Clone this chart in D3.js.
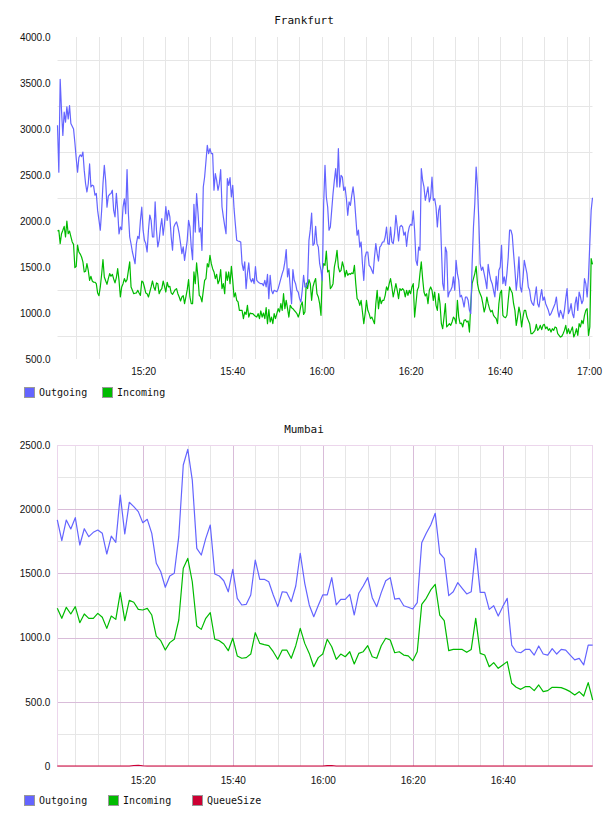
<!DOCTYPE html>
<html>
<head>
<meta charset="utf-8">
<script src="https://cdn.jsdelivr.net/npm/d3@7"></script>
<style>
  body { margin: 0; background: #fff; }
  svg { display: block; font-family: "DejaVu Sans Mono", monospace; }
  .title { font-size: 11px; fill: #111; }
  .tick text { font-size: 10px; fill: #111; }
  .legend text { font-size: 10px; fill: #111; }
</style>
</head>
<body>
<svg id="chart" width="608" height="816"></svg>
<script>
// Frankfurt: one sample every 18 s from 15:00:47
const frankfurtStart = [15, 0, 47];
const frankfurtStepSec = 18;
const frankfurtOutgoing = [
  3040,2530,3540,3200,2930,3185,3075,3240,3110,3255,3060,3030,3000,2850,2680,2530,2690,2720,2700,2750,
  2550,2405,2315,2405,2620,2370,2390,2380,2280,2300,2115,2010,1900,2115,2405,2605,2440,2150,2270,2290,
  2300,2335,2115,2045,2300,2115,1860,1935,1905,2150,2240,2080,2560,2080,1826,1750,1663,1600,1535,1755,
  1833,1808,2007,2150,1900,1790,1755,1663,1900,2065,2007,1826,1826,2207,1900,1718,1790,1935,2025,1845,
  1970,2157,2007,2115,2045,1826,1682,1935,1970,1990,1935,1860,1755,1645,1718,1572,1680,1790,2007,1935,
  1718,1580,2181,1880,2297,2098,1880,1927,1681,2370,2478,2650,2822,2732,2786,2732,2732,2334,2515,2442,
  2334,2406,2558,2152,2044,1950,1862,2460,2388,2471,2261,2388,2134,1960,1790,1783,1778,1772,1536,1464,
  1555,1265,1428,1544,1374,1337,1374,1319,1504,1355,1337,1327,1319,1319,1297,1355,1283,1421,1156,1410,
  1247,1210,1247,1240,1232,1265,1319,1374,1428,1471,1555,1689,1392,1482,1283,1101,1471,1355,1319,1247,
  1228,1156,1120,1247,1410,1283,1283,1337,1790,1906,2087,1736,1754,1942,1754,1718,1536,1464,1355,2188,
  2605,2261,2152,1900,1935,2116,2297,2442,2569,2370,2786,2370,2496,2478,2333,2370,2243,2062,2207,2170,
  2279,2370,2243,2044,1845,1900,1717,1772,1536,1355,1609,1663,1663,1518,1500,1464,1428,1609,1754,1645,
  1565,1717,1736,1772,1772,1826,1935,1754,1746,1935,1772,1754,1862,2062,1935,1783,1935,1953,1935,1845,
  1880,1725,1862,1935,1964,1953,2109,1900,1573,1518,1717,1681,2569,2442,2370,2225,2297,2370,2207,2261,
  2478,2225,2243,2152,1935,2116,2170,1717,1319,1247,1717,1663,1174,1228,1247,1283,1392,1247,1573,1428,
  1355,1174,1192,1138,1065,1174,1174,1138,1029,993,1536,1935,2188,2587,2370,2007,1536,1464,1500,1428,
  1355,1265,1529,1428,1355,1319,1247,1174,1398,1247,1464,1500,1736,1319,1392,1301,1428,1609,1900,1900,
  1845,1645,1464,1247,1392,1609,1283,1228,1373,1573,1500,1428,1283,1247,1138,1101,1083,1185,1283,1101,
  1065,1174,1254,1138,1174,1101,1065,1029,975,993,1029,1065,1101,1174,1029,956,1029,993,938,1029,
  1156,1265,993,1029,1101,993,949,1101,1174,1029,1228,1174,1101,1138,1373,1319,1174,1392,1757,2116,
  2253
];
const frankfurtIncoming = [
  1891,1898,1754,1862,1900,1942,1826,2000,1862,1891,1830,1772,1746,1493,1507,1739,1663,1640,1609,1555,
  1446,1453,1536,1464,1355,1399,1348,1334,1334,1319,1218,1189,1283,1421,1580,1392,1350,1312,1374,1428,
  1399,1421,1370,1327,1385,1482,1355,1174,1283,1319,1374,1337,1363,1460,1555,1283,1247,1210,1215,1218,
  1247,1218,1192,1348,1334,1280,1218,1210,1174,1228,1283,1348,1283,1247,1327,1319,1210,1247,1265,1348,
  1290,1228,1334,1283,1290,1218,1203,1228,1254,1265,1210,1174,1131,1174,1189,1101,1174,1254,1363,1174,
  1101,1101,1446,1319,1544,1392,1192,1174,1120,1240,1355,1374,1536,1500,1627,1536,1482,1446,1374,1421,
  1319,1355,1471,1265,1319,1210,1446,1355,1446,1319,1507,1355,1174,1218,1138,1120,1029,1030,1029,938,
  1011,985,1083,956,1000,993,993,978,964,956,993,938,1022,956,1000,938,1058,884,1036,902,
  956,884,993,938,993,1047,1011,1101,1029,1210,1047,1138,1047,956,1083,1058,1047,1029,1011,993,
  956,1000,1083,1120,985,1011,1326,1265,1363,1319,1138,1283,1337,1374,1210,1174,1101,975,1464,1536,
  1518,1674,1446,1464,1265,1283,1319,1500,1573,1681,1500,1446,1464,1555,1500,1392,1464,1410,1428,1421,
  1435,1428,1518,1319,1156,1138,1083,1138,1011,884,993,1138,1029,993,938,956,920,884,1101,1247,
  1047,1174,1101,1138,1138,1192,1283,1247,1319,1374,1283,1174,1247,1319,1247,1156,1265,1247,1265,1247,
  1174,1247,1192,1247,1210,1283,1319,956,1101,1247,1283,1428,1555,1374,1228,1185,1210,1101,1247,1283,
  1247,1138,1228,1083,1029,1210,1101,884,829,956,1101,848,866,884,866,902,956,938,884,1138,
  956,884,891,848,920,927,902,913,793,1101,1319,1374,1428,1507,1319,1247,1210,1174,1101,1011,
  1065,1174,1101,1047,1011,1029,975,956,938,884,1101,1218,1247,975,956,949,975,1138,1283,1247,
  1218,1101,1029,866,956,1065,993,848,956,1029,1029,956,920,884,775,775,793,811,877,811,
  829,866,819,866,877,829,848,811,829,793,829,811,848,840,775,757,739,746,775,811,
  866,775,829,775,811,848,739,775,829,757,884,848,920,884,975,1029,1047,757,848,1591,
  1529
];
const frankfurtYLabels = [500, 1000, 1500, 2000, 2500, 3000, 3500, 4000];
const frankfurtYGrid = [750, 1250, 1750, 2250, 2750, 3250, 3750];

// Mumbai: one sample per minute from 15:01
const mumbaiStart = [15, 1, 0];
const mumbaiStepSec = 60;
const mumbaiOutgoing = [
  1916,1755,1916,1846,1934,1721,1848,1786,1820,1838,1812,1651,1791,1742,2110,1807,2054,2020,1981,1895,
  1921,1812,1579,1513,1392,1480,1501,1786,2344,2466,2227,1695,1643,1773,1877,1495,1480,1443,1357,1532,
  1306,1254,1259,1332,1604,1454,1454,1435,1332,1241,1357,1352,1280,1402,1657,1423,1254,1163,1250,1332,
  1332,1467,1254,1298,1298,1337,1176,1345,1402,1467,1311,1241,1350,1443,1467,1300,1306,1248,1236,1223,
  1272,1739,1812,1877,1968,1657,1617,1327,1357,1428,1384,1340,1357,1695,1352,1352,1220,1248,1168,1241,
  1306,942,890,882,908,908,864,935,872,864,914,872,908,903,864,826,838,787,942,942
];
const mumbaiIncoming = [
  1228,1150,1236,1184,1241,1116,1184,1150,1150,1189,1158,1072,1168,1142,1350,1132,1290,1275,1220,1215,
  1228,1176,1012,976,903,961,987,1137,1540,1617,1435,1090,1064,1150,1194,987,976,950,898,995,
  857,839,844,872,1038,955,945,937,890,831,903,903,839,937,1072,955,877,773,844,872,
  987,929,831,872,851,890,795,877,890,937,851,839,937,995,981,882,890,864,857,820,
  890,1259,1306,1371,1415,1176,1132,898,908,908,908,885,908,1150,877,864,773,805,761,787,
  813,644,613,597,618,618,587,631,579,587,613,613,610,597,579,553,579,545,649,514
];
const mumbaiQueue = [
  0,0,0,0,0,0,0,0,0,0,0,0,0,0,0,0,0,4,6,2,
  0,0,0,0,0,0,0,0,0,0,0,0,0,0,0,0,0,0,0,0,
  0,0,0,0,0,0,0,0,0,0,0,0,0,0,0,0,0,0,0,0,
  3,4,0,0,0,0,0,0,0,0,0,0,0,0,0,0,0,0,0,0,
  0,0,0,0,0,0,0,0,0,0,0,0,0,0,0,0,0,0,0,0,
  0,0,0,0,0,0,0,0,0,0,0,0,0,0,0,0,0,0,0,0
];
const mumbaiYLabels = [0, 500, 1000, 1500, 2000, 2500];
const mumbaiYMinor = [250, 750, 1250, 1750, 2250];

const seriesColors = {"Outgoing": "#6464ff", "Incoming": "#00bb00", "QueueSize": "#cc0033"};

function timesFor(start, step, n){
  var t0 = new Date(2000, 0, 1, start[0], start[1], start[2]).getTime();
  return d3.range(n).map((i) => new Date(t0 + i * step * 1000));
}

var svg = d3.select("#chart");

function drawChart(cfg){
  var g = svg.append("g");

  var times = timesFor(cfg.start, cfg.step, cfg.series[0].values.length);
  var x = d3.scaleTime()
            .domain([times[0], times[times.length - 1]])
            .range([cfg.left, cfg.right]);
  var y = d3.scaleLinear()
            .domain(cfg.yDomain)
            .range([cfg.bottom, cfg.top]);

  // title, centered on the page
  g.append("text")
   .attr("class", "title")
   .attr("x", 304)
   .attr("y", cfg.titleY)
   .attr("text-anchor", "middle")
   .text(cfg.title);

  // vertical grid, every 5 minutes
  var fiveMin = d3.timeMinute.every(5).range(times[0], times[times.length - 1]);
  g.selectAll(".vgrid")
   .data(fiveMin)
   .enter()
   .append("line")
   .attr("x1", (d) => Math.round(x(d)) + 0.5)
   .attr("x2", (d) => Math.round(x(d)) + 0.5)
   .attr("y1", cfg.top)
   .attr("y2", cfg.bottom)
   .attr("stroke", (d) => (cfg.majorColor && d.getMinutes() % 20 == 0) ? cfg.majorColor : cfg.gridColor)
   .attr("stroke-width", 1);

  // horizontal grid
  g.selectAll(".hgrid")
   .data(cfg.yGrid)
   .enter()
   .append("line")
   .attr("x1", cfg.left)
   .attr("x2", cfg.right)
   .attr("y1", (d) => Math.round(y(d)) + 0.5)
   .attr("y2", (d) => Math.round(y(d)) + 0.5)
   .attr("stroke", cfg.gridColor);

  if (cfg.yMajor){
    g.selectAll(".hmajor")
     .data(cfg.yMajor)
     .enter()
     .append("line")
     .attr("x1", cfg.left)
     .attr("x2", cfg.right)
     .attr("y1", (d) => Math.round(y(d)) + 0.5)
     .attr("y2", (d) => Math.round(y(d)) + 0.5)
     .attr("stroke", cfg.majorColor);
    g.append("rect")
     .attr("x", Math.round(cfg.left) + 0.5)
     .attr("y", Math.round(cfg.top) + 0.5)
     .attr("width", Math.round(cfg.right - cfg.left))
     .attr("height", Math.round(cfg.bottom - cfg.top))
     .attr("fill", "none")
     .attr("stroke", cfg.frameColor);
  }

  // axes, text only
  var yAxis = d3.axisLeft(y)
                .tickValues(cfg.yLabels)
                .tickSize(0)
                .tickPadding(7)
                .tickFormat((d) => d == 0 ? "0" : d3.format(".1f")(d));
  g.append("g")
   .attr("transform", "translate(" + cfg.left + ",0)")
   .call(yAxis)
   .call((a) => a.select(".domain").remove());

  var xTicks = d3.timeMinute.every(20).range(times[0], times[times.length - 1]);
  var xAxis = d3.axisBottom(x)
                .tickValues(xTicks)
                .tickSize(0)
                .tickPadding(cfg.xPad)
                .tickFormat(d3.timeFormat("%H:%M"));
  g.append("g")
   .attr("transform", "translate(0," + cfg.bottom + ")")
   .call(xAxis)
   .call((a) => a.select(".domain").remove());

  // lines
  var line = d3.line()
               .x((d, i) => x(times[i]))
               .y((d) => y(d));
  cfg.series.slice().reverse().forEach(function(s){
    g.append("path")
     .datum(s.values)
     .attr("fill", "none")
     .attr("stroke", seriesColors[s.name])
     .attr("stroke-width", 1.2)
     .attr("stroke-linejoin", "round")
     .attr("d", line);
  });

  // legend
  var legend = g.append("g")
                .attr("class", "legend")
                .attr("transform", "translate(0," + cfg.legendY + ")");
  var items = legend.selectAll("g")
                    .data(cfg.series)
                    .enter()
                    .append("g")
                    .attr("transform", (d, i) => "translate(" + cfg.legendX[i] + ",0)");
  items.append("rect")
       .attr("x", 0.5)
       .attr("y", -4.5)
       .attr("width", 10)
       .attr("height", 10)
       .attr("fill", (d) => seriesColors[d.name])
       .attr("stroke", "#999");
  items.append("text")
       .attr("x", 15)
       .attr("y", 4)
       .text((d) => d.name);
}

drawChart({
  title: "Frankfurt", titleY: 24,
  start: frankfurtStart, step: frankfurtStepSec,
  series: [{name: "Outgoing", values: frankfurtOutgoing},
           {name: "Incoming", values: frankfurtIncoming}],
  left: 57.5, right: 592.5, top: 37, bottom: 359,
  yDomain: [500, 4000], yLabels: frankfurtYLabels, yGrid: frankfurtYGrid,
  gridColor: "#e6e6e6", xPad: 9,
  legendY: 392, legendX: [24, 102]
});

drawChart({
  title: "Mumbai", titleY: 433,
  start: mumbaiStart, step: mumbaiStepSec,
  series: [{name: "Outgoing", values: mumbaiOutgoing},
           {name: "Incoming", values: mumbaiIncoming},
           {name: "QueueSize", values: mumbaiQueue}],
  left: 57.3, right: 592.7, top: 445, bottom: 766,
  yDomain: [0, 2500], yLabels: mumbaiYLabels, yGrid: mumbaiYMinor, yMajor: [500, 1000, 1500, 2000],
  gridColor: "#e6e6e6", majorColor: "#d9bcd9", frameColor: "#ecd6ec", xPad: 11,
  legendY: 800, legendX: [24, 108, 192]
});
</script>
</body>
</html>
